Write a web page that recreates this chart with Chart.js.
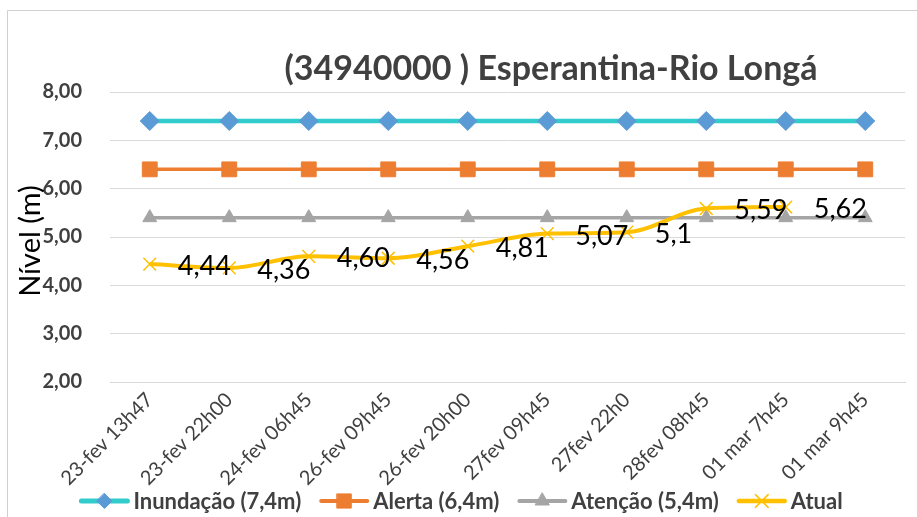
<!DOCTYPE html>
<html><head><meta charset="utf-8">
<script src="https://cdn.jsdelivr.net/npm/chart.js@4/dist/chart.umd.min.js"></script>
<style>html,body{margin:0;padding:0;background:#fff}</style>
</head><body>
<canvas id="c" width="917" height="517"></canvas>
<script>
const categories = ["23-fev 13h47","23-fev 22h00","24-fev 06h45","26-fev 09h45","26-fev 20h00","27fev 09h45","27fev 22h0","28fev 08h45","01 mar 7h45","01 mar 9h45"];
const inundacao = [7.4,7.4,7.4,7.4,7.4,7.4,7.4,7.4,7.4,7.4];
const alerta = [6.4,6.4,6.4,6.4,6.4,6.4,6.4,6.4,6.4,6.4];
const atencao = [5.4,5.4,5.4,5.4,5.4,5.4,5.4,5.4,5.4,5.4];
const atual = [4.44,4.36,4.60,4.56,4.81,5.07,5.1,5.59,5.62,null];
const atualLabels = ["4,44","4,36","4,60","4,56","4,81","5,07","5,1","5,59","5,62",""];
const seriesNames = ["Inundação (7,4m)","Alerta (6,4m)","Atenção (5,4m)","Atual"];
const yMin = 2, yMax = 8, yStep = 1;
const titleText = "(34940000 ) Esperantina-Rio Longá";
const yTitleText = "Nível (m)";

const styles = [
  {line:'#33CCCC', lw:4.5, marker:'rectRot', r:9.5, fill:'#5B9BD5', stroke:'#5B9BD5', mbw:1, lr:7.5},
  {line:'#ED7D31', lw:3.5, marker:'rect', r:10.5, fill:'#ED7D31', stroke:'#ED7D31', mbw:1, lr:10},
  {line:'#A5A5A5', lw:3.5, marker:'triangle', r:8, fill:'#A5A5A5', stroke:'#A5A5A5', mbw:1, lr:8},
  {line:'#FFC000', lw:4, marker:'crossRot', r:9, fill:'#FFC000', stroke:'#FFC000', mbw:1.5, lr:9}
];
const seriesData = [inundacao, alerta, atencao, atual];
const orders = [1,2,3,0];

function drawMarker(ctx, st, x, y, r) {
  ctx.save();
  ctx.fillStyle = st.fill; ctx.strokeStyle = st.stroke; ctx.lineWidth = st.mbw;
  ctx.beginPath();
  if (st.marker === 'rectRot') {
    ctx.moveTo(x, y - r); ctx.lineTo(x + r, y); ctx.lineTo(x, y + r); ctx.lineTo(x - r, y); ctx.closePath();
    ctx.fill(); ctx.stroke();
  } else if (st.marker === 'rect') {
    const s = Math.SQRT1_2 * r;
    ctx.rect(x - s, y - s, 2 * s, 2 * s); ctx.fill(); ctx.stroke();
  } else if (st.marker === 'triangle') {
    ctx.moveTo(x, y - r); ctx.lineTo(x + r * Math.sqrt(3) / 2, y + r / 2); ctx.lineTo(x - r * Math.sqrt(3) / 2, y + r / 2); ctx.closePath();
    ctx.fill(); ctx.stroke();
  } else {
    const o = Math.SQRT1_2 * r;
    ctx.moveTo(x - o, y - o); ctx.lineTo(x + o, y + o); ctx.moveTo(x + o, y - o); ctx.lineTo(x - o, y + o); ctx.stroke();
  }
  ctx.restore();
}

const deco = {
  id: 'deco',
  beforeDraw(chart) {
    const ctx = chart.ctx;
    ctx.save(); ctx.fillStyle = '#fff'; ctx.fillRect(0, 0, chart.width, chart.height); ctx.restore();
  },
  afterDraw(chart) {
    const ctx = chart.ctx;
    ctx.save();
    // outer frame
    ctx.strokeStyle = '#D0D0D0'; ctx.lineWidth = 1;
    ctx.beginPath(); ctx.moveTo(7.5, 517); ctx.lineTo(7.5, 10.5); ctx.lineTo(917, 10.5); ctx.stroke();
    // title
    ctx.font = 'bold 34px Lato'; ctx.fillStyle = '#404040'; ctx.textAlign = 'center'; ctx.textBaseline = 'alphabetic';
    ctx.fillText(titleText, 551, 80);
    // y title
    ctx.save();
    ctx.translate(31, 241); ctx.rotate(-Math.PI / 2);
    ctx.font = '29px Lato'; ctx.fillStyle = '#000'; ctx.textAlign = 'center'; ctx.textBaseline = 'middle';
    ctx.fillText(yTitleText, 0, 0);
    ctx.restore();
    // data labels for Atual
    const meta = chart.getDatasetMeta(3);
    ctx.font = '27px Lato'; ctx.fillStyle = '#000'; ctx.textAlign = 'left'; ctx.textBaseline = 'alphabetic';
    meta.data.forEach((pt, i) => {
      if (atual[i] == null) return;
      ctx.fillText(atualLabels[i], pt.x + 28, pt.y + 11);
    });
    // legend
    ctx.font = 'bold 22px Lato'; ctx.fillStyle = '#404040'; ctx.textBaseline = 'middle'; ctx.textAlign = 'left';
    const lineLen = 50, gapT = 4, gapI = 18;
    const widths = seriesNames.map(n => lineLen + gapT + ctx.measureText(n).width);
    const total = widths.reduce((a, b) => a + b, 0) + gapI * (seriesNames.length - 1);
    let x = 461 - total / 2; const y = 501;
    seriesNames.forEach((n, i) => {
      const st = styles[i];
      ctx.strokeStyle = st.line; ctx.lineWidth = st.lw + 0.5; ctx.lineCap = 'round';
      ctx.beginPath(); ctx.moveTo(x + 2, y); ctx.lineTo(x + lineLen - 2, y); ctx.stroke();
      drawMarker(ctx, st, x + lineLen / 2, y, st.lr);
      ctx.fillStyle = '#404040';
      ctx.fillText(n, x + lineLen + gapT, y + 1);
      x += widths[i] + gapI;
    });
    ctx.restore();
  }
};

const datasets = seriesNames.map((n, i) => ({
  label: n,
  data: seriesData[i],
  borderColor: styles[i].line,
  backgroundColor: styles[i].fill,
  borderWidth: styles[i].lw,
  pointStyle: styles[i].marker,
  pointRadius: styles[i].r,
  pointHoverRadius: styles[i].r,
  pointBackgroundColor: styles[i].fill,
  pointBorderColor: styles[i].stroke,
  pointBorderWidth: styles[i].mbw,
  cubicInterpolationMode: i === 3 ? 'monotone' : 'default',
  tension: i === 3 ? 0.4 : 0,
  spanGaps: false,
  fill: false,
  order: orders[i]
}));

new Chart(document.getElementById('c'), {
  type: 'line',
  data: { labels: categories, datasets },
  plugins: [deco],
  options: {
    responsive: false,
    animation: false,
    devicePixelRatio: 1,
    layout: { padding: { left: 0, right: 12, top: 92, bottom: 0 } },
    plugins: { legend: { display: false }, title: { display: false }, tooltip: { enabled: false } },
    scales: {
      x: {
        offset: true,
        grid: { display: false, drawTicks: false },
        border: { display: true, color: '#D9D9D9', width: 1 },
        ticks: { color: '#404040', font: { family: 'Lato', size: 20 }, minRotation: 45, maxRotation: 45, autoSkip: false, padding: 6 },
        afterFit(s) { s.height = 135; }
      },
      y: {
        min: yMin, max: yMax,
        grid: { color: '#D9D9D9', lineWidth: 1, drawTicks: false },
        border: { display: false },
        ticks: {
          stepSize: yStep, color: '#404040', padding: 28,
          font: { family: 'Lato', size: 20, weight: 'bold' },
          callback: v => v.toFixed(2).replace('.', ',')
        },
        afterFit(s) { s.width = 110; }
      }
    }
  }
});
</script>
</body></html>
